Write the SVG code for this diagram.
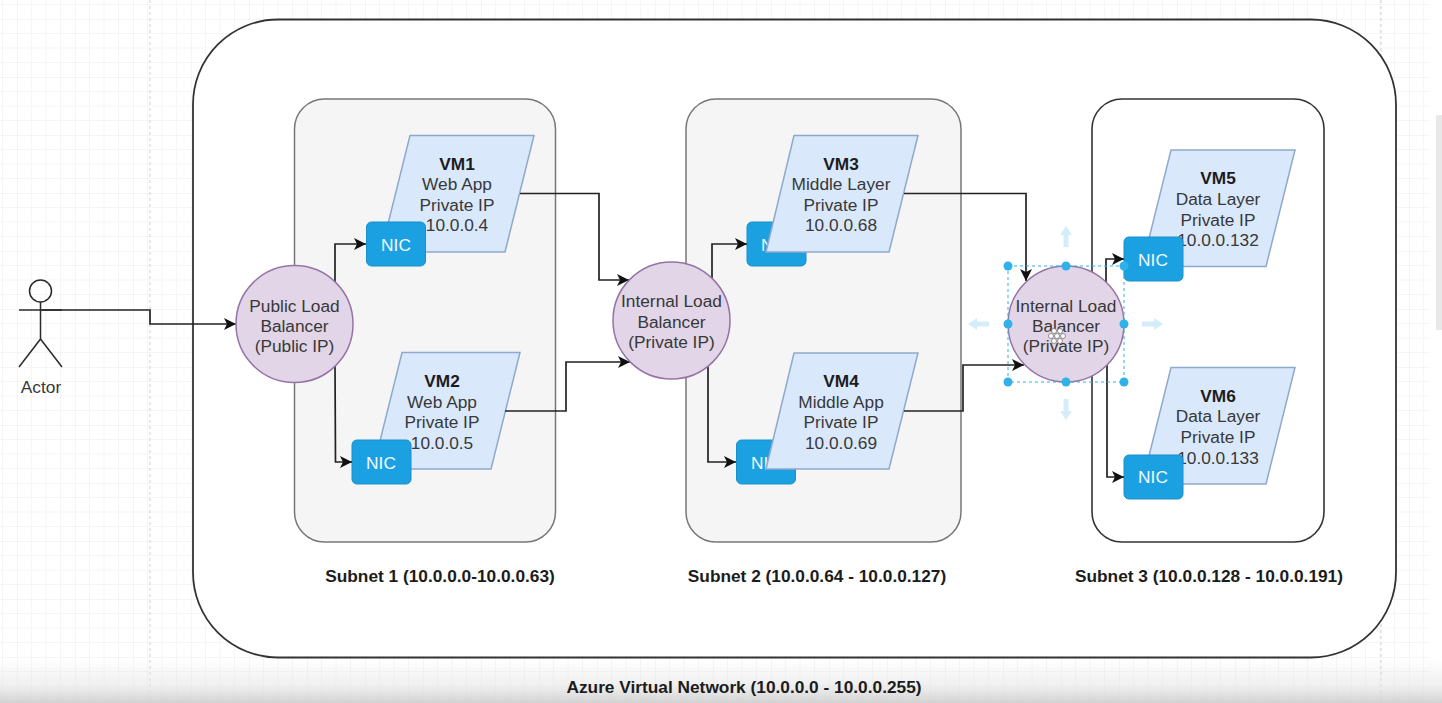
<svg xmlns="http://www.w3.org/2000/svg" width="1442" height="703" viewBox="0 0 1442 703">
<style>
text{font-family:"Liberation Sans",Arial,sans-serif;font-size:17.300px;fill:#383838;text-anchor:middle}
.b{font-weight:bold;fill:#1c1c1c}
.nic{fill:#1ba1e2;stroke:#1a8fc9;stroke-width:1}
.nt{fill:#f2fbff}
.vm{fill:#dae8fc;stroke:#8fa9cc;stroke-width:1.5}
.lb{fill:#e1d5e7;stroke:#9673a6;stroke-width:1.5}
.sub{fill:#f5f5f5;stroke:#777;stroke-width:1.5}
.w{fill:none;stroke:#222;stroke-width:1.7}
.h{fill:#2fb2ea}
.ar{fill:#d3edf9}
.act{fill:none;stroke:#2a2a2a;stroke-width:1.5}
</style>
<defs>
<marker id="a" markerUnits="userSpaceOnUse" markerWidth="14" markerHeight="14" refX="12" refY="6" orient="auto"><path d="M0 0L12 6L0 12L3 6Z" fill="#111"/></marker>
<pattern id="g" width="58" height="58" patternUnits="userSpaceOnUse" x="17" y="19">
<path d="M14.500 0V58M29 0V58M43.500 0V58M0 14.500H58M0 29H58M0 43.500H58" fill="none" stroke="#f5f5f5" stroke-width="1"/>
<path d="M0 0V58M0 0H58" fill="none" stroke="#ebebeb" stroke-width="1"/>
</pattern>
<linearGradient id="f" x1="0" y1="0" x2="0" y2="1"><stop offset="0" stop-color="#e0e0e0" stop-opacity="0"/><stop offset="0.55" stop-color="#e6e6e6" stop-opacity="0.55"/><stop offset="1" stop-color="#cfcfcf" stop-opacity="0.95"/></linearGradient>
</defs>
<g id="canvas">
<rect width="1442" height="703" fill="#fff"/>
<rect width="1430" height="703" fill="url(#g)"/>
<path d="M150 0V703M1381 0V703" stroke="#cfcfcf" stroke-width="1" stroke-dasharray="3 3" fill="none"/>
<rect x="1436" y="115" width="6" height="215" fill="#e8e8e8"/>
<rect y="660" width="1442" height="43" fill="url(#f)"/>
</g>
<g id="vnet"><rect x="193" y="19.500" width="1203" height="638" rx="85" ry="85" fill="#fff" stroke="#333" stroke-width="1.800"/></g>
<g id="subnet1"><rect class="sub" x="294.500" y="99" width="261" height="443" rx="30"/></g>
<g id="subnet2"><rect class="sub" x="686" y="99" width="275" height="443" rx="30"/></g>
<g id="subnet3"><rect x="1092" y="99" width="232" height="443" rx="30" fill="#fff" stroke="#333" stroke-width="1.600"/></g>
<g id="nic3"><rect class="nic" x="747" y="222" width="59" height="44" rx="5"/><text class="nt" x="776" y="251">NIC</text></g>
<g id="nic4"><rect class="nic" x="736.500" y="440" width="59" height="44" rx="5"/><text class="nt" x="766" y="469">NIC</text></g>
<g id="vm1"><path class="vm" d="M410 135.500H534L505 252H381Z"/><text class="b" x="457" y="169.500">VM1</text><text x="457" y="190">Web App</text><text x="457" y="210.500">Private IP</text><text x="457" y="231">10.0.0.4</text></g>
<g id="vm2"><path class="vm" d="M402 352.500H520L491 469H373Z"/><text class="b" x="442" y="386.500">VM2</text><text x="442" y="407.500">Web App</text><text x="442" y="428">Private IP</text><text x="442" y="448.500">10.0.0.5</text></g>
<g id="vm3"><path class="vm" d="M794 135.500H918L889 252H766Z"/><text class="b" x="841" y="169.500">VM3</text><text x="841" y="190">Middle Layer</text><text x="841" y="210.500">Private IP</text><text x="841" y="231">10.0.0.68</text></g>
<g id="vm4"><path class="vm" d="M794 353H918L889 469H766Z"/><text class="b" x="841" y="386.500">VM4</text><text x="841" y="407.500">Middle App</text><text x="841" y="428">Private IP</text><text x="841" y="448.500">10.0.0.69</text></g>
<g id="vm5"><path class="vm" d="M1171 150H1295L1266 266.500H1142Z"/><text class="b" x="1218" y="184">VM5</text><text x="1218" y="205">Data Layer</text><text x="1218" y="225.500">Private IP</text><text x="1218" y="246">10.0.0.132</text></g>
<g id="vm6"><path class="vm" d="M1171 367.500H1295L1266 484H1142Z"/><text class="b" x="1218" y="401.500">VM6</text><text x="1218" y="422">Data Layer</text><text x="1218" y="442.500">Private IP</text><text x="1218" y="463.500">10.0.0.133</text></g>
<g id="nic1"><rect class="nic" x="366.500" y="222" width="59" height="44" rx="5"/><text class="nt" x="396" y="251">NIC</text></g>
<g id="nic2"><rect class="nic" x="352" y="440" width="59" height="44" rx="5"/><text class="nt" x="381" y="469">NIC</text></g>
<g id="nic5"><rect class="nic" x="1124" y="237" width="59" height="44" rx="5"/><text class="nt" x="1153" y="266">NIC</text></g>
<g id="nic6"><rect class="nic" x="1124" y="455" width="59" height="44" rx="5"/><text class="nt" x="1153" y="483">NIC</text></g>
<g id="connectors">
<path class="w" marker-end="url(#a)" d="M40 310H150V324H236"/>
<path class="w" marker-end="url(#a)" d="M335 285V244H366"/>
<path class="w" marker-end="url(#a)" d="M335 364L335.500 462H352"/>
<path class="w" marker-end="url(#a)" d="M520 193.500H599V280H629"/>
<path class="w" marker-end="url(#a)" d="M505 411H566V362H630"/>
<path class="w" marker-end="url(#a)" d="M712 279V244H747"/>
<path class="w" marker-end="url(#a)" d="M708 367V462H736"/>
<path class="w" marker-end="url(#a)" d="M904 193.500H1026V281"/>
<path class="w" marker-end="url(#a)" d="M904 411H963V365H1024"/>
<path class="w" marker-end="url(#a)" d="M1106 282V259H1124"/>
<path class="w" marker-end="url(#a)" d="M1107 365V477H1124"/>
</g>
<g id="lb1"><circle class="lb" cx="294.500" cy="324" r="58.500"/><text x="294.500" y="311.500">Public Load</text><text x="294.500" y="331.500">Balancer</text><text x="294.500" y="351.500">(Public IP)</text></g>
<g id="lb2"><circle class="lb" cx="671.500" cy="320.500" r="58.500"/><text x="671.500" y="306.500">Internal Load</text><text x="671.500" y="327.500">Balancer</text><text x="671.500" y="347.500">(Private IP)</text></g>
<g id="lb3"><circle class="lb" cx="1066" cy="324" r="58"/><text x="1066" y="311.500">Internal Load</text><text x="1066" y="331.500">Balancer</text><text x="1066" y="351.500">(Private IP)</text>
<rect x="1008" y="266" width="116" height="116" fill="none" stroke="#2fb2ea" stroke-width="1" stroke-dasharray="3 3"/>
<g class="h"><circle cx="1008" cy="266" r="4.500"/><circle cx="1066" cy="266" r="4.500"/><circle cx="1124" cy="266" r="4.500"/><circle cx="1008" cy="324" r="4.500"/><circle cx="1124" cy="324" r="4.500"/><circle cx="1008" cy="382" r="4.500"/><circle cx="1066" cy="382" r="4.500"/><circle cx="1124" cy="382" r="4.500"/></g>
<g class="ar"><path d="M1066 226l6 9h-3.500v12h-5v-12h-3.500z"/><path d="M1066 420l6-9h-3.500v-12h-5v12h-3.500z"/><path d="M968 324l9-6v3.500h12v5h-12v3.500z"/><path d="M1163 324l-9-6v3.500h-12v5h12v3.500z"/></g>
<g fill="#fff" stroke="#777" stroke-width="0.800"><circle cx="1051" cy="336" r="2.500"/><circle cx="1057" cy="336" r="2.500"/><circle cx="1063" cy="336" r="2.500"/><circle cx="1054" cy="331" r="2.500"/><circle cx="1060" cy="331" r="2.500"/><circle cx="1054" cy="341" r="2.500"/><circle cx="1060" cy="341" r="2.500"/></g>
</g>
<g id="actor">
<circle class="act" cx="40.500" cy="291" r="11"/>
<path class="act" d="M40.500 302V339M19 310H62M40.500 339L19 367M40.500 339L62 367"/>
<text x="41" y="393">Actor</text>
</g>
<g id="labels">
<text class="b" x="440" y="582">Subnet 1 (10.0.0.0-10.0.0.63)</text>
<text class="b" x="817" y="582">Subnet 2 (10.0.0.64 - 10.0.0.127)</text>
<text class="b" x="1209" y="582">Subnet 3 (10.0.0.128 - 10.0.0.191)</text>
<text class="b" x="744" y="693">Azure Virtual Network (10.0.0.0 - 10.0.0.255)</text>
</g>
</svg>
